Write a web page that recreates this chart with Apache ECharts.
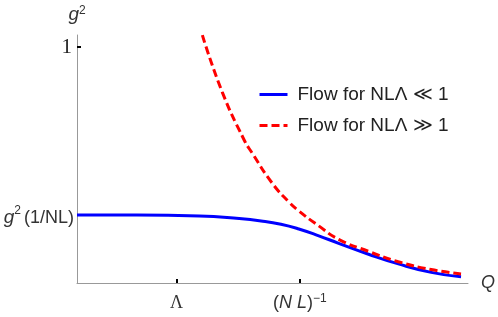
<!DOCTYPE html>
<html>
<head>
<meta charset="utf-8">
<script src="https://cdn.jsdelivr.net/npm/echarts@6/dist/echarts.min.js"></script>
<style>html,body{margin:0;padding:0;background:#fff}#c{width:498px;height:317px}</style>
</head>
<body>
<div id="c"></div>
<script>
// Q positions (arbitrary units along the axis)
const blueQ = [0, 60, 123, 163, 185, 205, 223, 243, 263, 293, 323, 356, 386];
const blueG = [0.288, 0.288, 0.284, 0.273, 0.263, 0.249, 0.229, 0.200, 0.168, 0.122, 0.081, 0.045, 0.026];
const redQ = [126, 146, 168, 176, 196, 213, 223, 243, 263, 293, 323, 356, 386];
const redG = [1.05, 0.809, 0.606, 0.551, 0.424, 0.343, 0.305, 0.242, 0.185, 0.134, 0.090, 0.057, 0.038];
const seriesNames = ['Flow for NL\u039B \u226A 1', 'Flow for NL\u039B \u226B 1'];
const xTickValues = [100, 224];
const xTickLabels = ['{s|\u039B}', '{p|(}{i|N L}{p|)}{sup|\u22121}'];
const yTickValues = [0.288, 1];
const yTickLabels = ['{g|g}{gs|2}{n|(1/NL)}', '{one|1}'];

const chart = echarts.init(document.getElementById('c'), null, {renderer: 'canvas'});
const zip = (a, b) => a.map((v, i) => [v, b[i]]);
chart.setOption({
  animation: false,
  backgroundColor: '#fff',
  grid: {left: 77, right: 28, top: 35, bottom: 34, containLabel: false},
  legend: {
    orient: 'vertical', left: 253, top: 80, itemWidth: 28, itemHeight: 12, itemGap: 12,
    itemStyle: {opacity: 0},
    lineStyle: {width: 3},
    textStyle: {fontFamily: 'Liberation Sans, Arial, sans-serif', fontSize: 19, color: '#222', padding: [0, 0, 0, 5]},
    data: seriesNames
  },
  xAxis: {
    type: 'value', min: 0, max: 393,
    splitLine: {show: false},
    axisLine: {lineStyle: {color: '#999', width: 1}},
    axisTick: {show: true, inside: true, length: 4, customValues: xTickValues, lineStyle: {color: '#000', width: 2}},
    axisLabel: {
      customValues: xTickValues, margin: 10,
      formatter: v => xTickLabels[xTickValues.indexOf(v)],
      rich: {
        s: {fontFamily: 'Liberation Serif, serif', fontSize: 18, color: '#333', lineHeight: 20},
        p: {fontFamily: 'Liberation Sans, sans-serif', fontSize: 18, color: '#333', lineHeight: 20},
        i: {fontFamily: 'Liberation Sans, sans-serif', fontStyle: 'italic', fontSize: 18, color: '#333', lineHeight: 20},
        sup: {fontFamily: 'Liberation Sans, sans-serif', fontSize: 12, color: '#333', verticalAlign: 'top', lineHeight: 12}
      }
    },
    name: 'Q', nameLocation: 'end', nameGap: 13,
    nameTextStyle: {fontFamily: 'Liberation Sans, sans-serif', fontStyle: 'italic', fontSize: 18, color: '#333', verticalAlign: 'middle'}
  },
  yAxis: {
    type: 'value', min: 0, max: 1.0508,
    splitLine: {show: false},
    axisLine: {show: true, lineStyle: {color: '#999', width: 1}},
    axisTick: {show: true, inside: true, length: 4, customValues: yTickValues, lineStyle: {color: '#000', width: 2}},
    axisLabel: {
      customValues: yTickValues, margin: 3,
      formatter: v => yTickLabels[yTickValues.indexOf(v)],
      rich: {
        one: {fontFamily: 'Liberation Serif, serif', fontSize: 21, color: '#222', padding: [0, 2, 0, 0]},
        g: {fontFamily: 'Liberation Sans, sans-serif', fontStyle: 'italic', fontSize: 19, color: '#333', lineHeight: 20, padding: [6, 0, 0, 0]},
        gs: {fontFamily: 'Liberation Sans, sans-serif', fontSize: 12, color: '#333', verticalAlign: 'top', lineHeight: 12},
        n: {fontFamily: 'Liberation Sans, sans-serif', fontSize: 18, color: '#333', lineHeight: 20, padding: [6, 0, 0, 3]}
      }
    },
    name: '{g|g}{s|2}', nameLocation: 'end', nameGap: 10,
    nameTextStyle: {
      rich: {
        g: {fontFamily: 'Liberation Sans, sans-serif', fontStyle: 'italic', fontSize: 19, color: '#333', lineHeight: 20},
        s: {fontFamily: 'Liberation Sans, sans-serif', fontSize: 12, color: '#333', verticalAlign: 'top', lineHeight: 12}
      }
    }
  },
  series: [
    {name: seriesNames[0], type: 'line', smooth: 0.5, symbol: 'none', data: zip(blueQ, blueG),
     lineStyle: {color: '#0000ff', width: 3}, itemStyle: {color: '#0000ff'}, z: 2},
    {name: seriesNames[1], type: 'line', smooth: 0.5, symbol: 'none', data: zip(redQ, redG),
     lineStyle: {color: '#ff0000', width: 3, type: [8, 4]}, itemStyle: {color: '#ff0000'}, z: 3}
  ]
});
</script>
</body>
</html>
